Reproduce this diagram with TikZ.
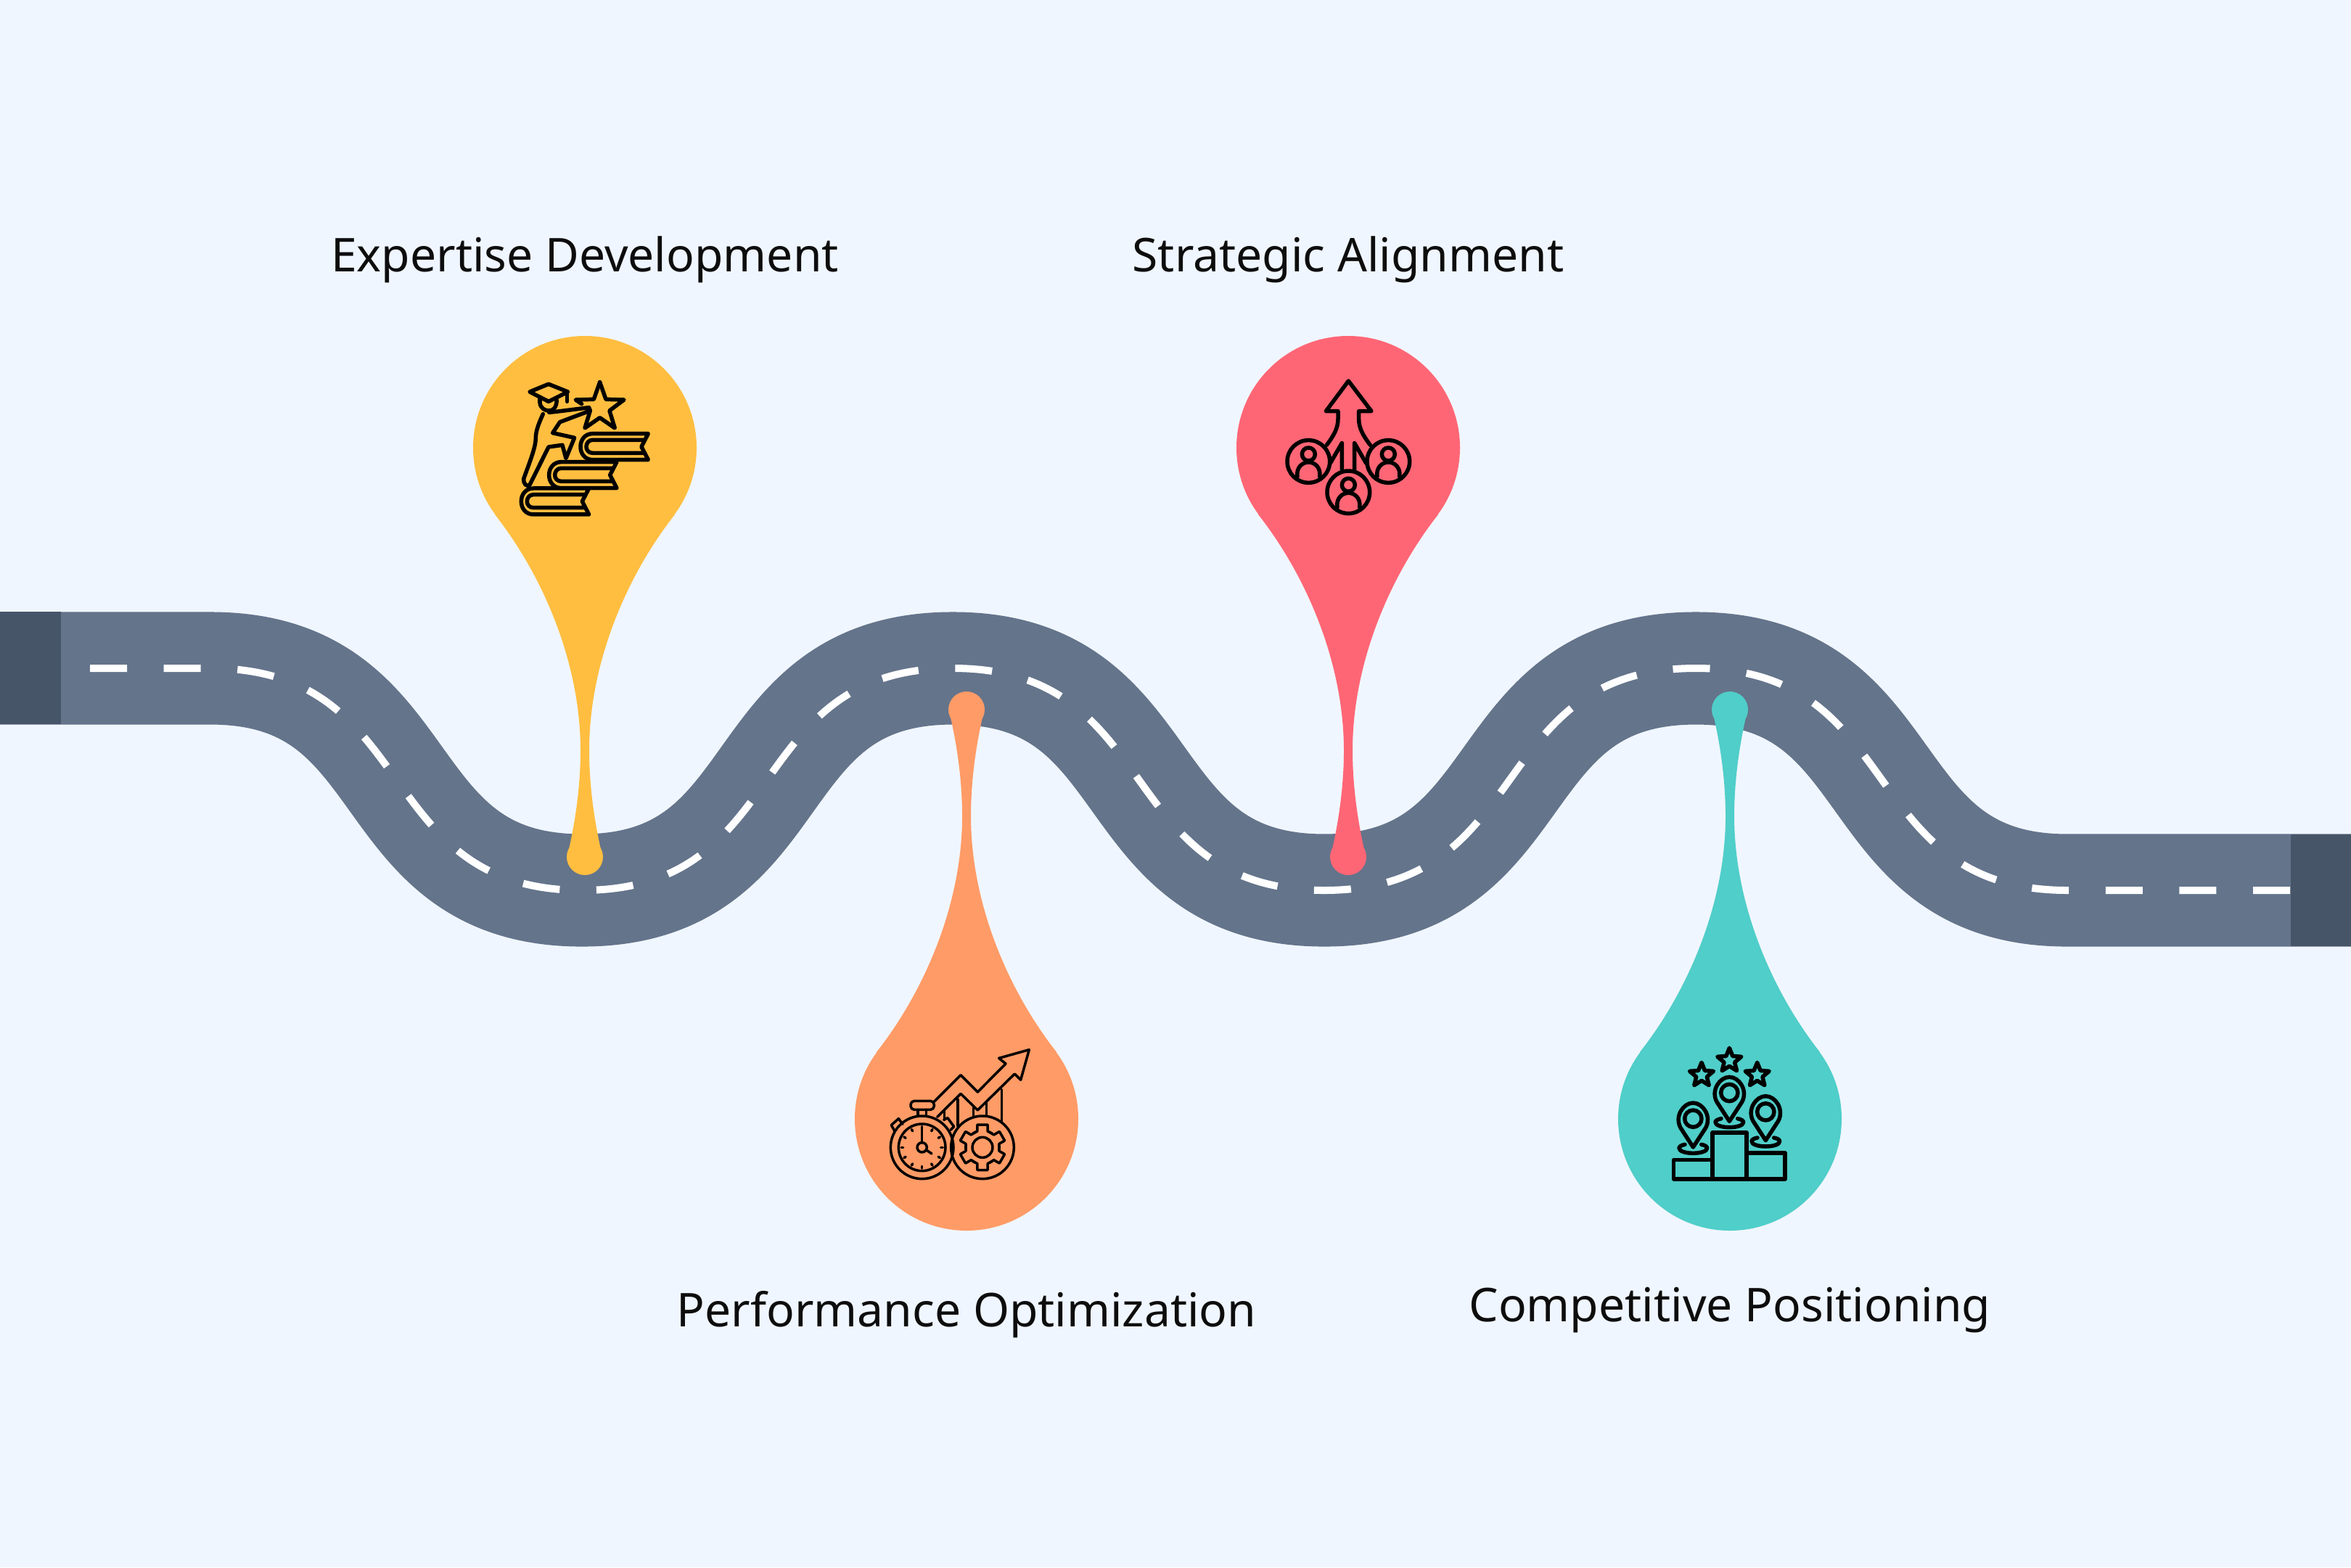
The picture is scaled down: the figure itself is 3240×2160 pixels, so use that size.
\documentclass[tikz,border=0pt]{standalone}
\usepackage{fontspec}
\setmainfont{Noto Sans}
\usepackage{xcolor}
\usetikzlibrary{calc}
\definecolor{pagebg}{HTML}{F0F6FF}
\definecolor{roadgray}{HTML}{64748B}
\definecolor{roaddark}{HTML}{475569}
\definecolor{pinyellow}{HTML}{FFBE40}
\definecolor{pinorange}{HTML}{FF9B66}
\definecolor{pinred}{HTML}{FF6675}
\definecolor{pinteal}{HTML}{50CEC9}
\tikzset{
  roadbody/.style={draw=roadgray,line width=1.55cm},
  roaddash/.style={draw=white,line width=0.1cm,dash pattern=on 0.51cm off 0.506cm},
  steplabel/.style={text=black!95,font=\fontsize{18.25}{22}\selectfont},
  iconline/.style={draw=black,line width=0.055cm,line join=round,line cap=round},
  thinline/.style={draw=black,line width=0.035cm,line join=round,line cap=round}
}
\newcommand{\roadcurve}{(290,921) .. controls (582,921) and (510,1227) .. (802,1227)
  .. controls (1094,1227) and (1021,921) .. (1313,921)
  .. controls (1605,921) and (1533,1227) .. (1825,1227)
  .. controls (2117,1227) and (2045,921) .. (2337,921)
  .. controls (2629,921) and (2557,1227) .. (2849,1227)}
\begin{document}
\begin{tikzpicture}[x=0.01cm,y=-0.01cm]
  \useasboundingbox (0,0) rectangle (3240,2160);
  \fill[pagebg] (0,0) rectangle (3240,2160);

  \draw[roadbody] (0,921) -- \roadcurve -- (3240,1227);
  \fill[roaddark] (0,843) rectangle (84,998);
  \fill[roaddark] (3157,1150) rectangle (3240,1304);
  \draw[roaddash] (124,921) -- \roadcurve -- (3157,1227);

  \foreach \pinx/\piny/\pinflip/\pincol in {806/617/1/pinyellow,1332/1542/-1/pinorange,1858/617/1/pinred,2384/1542/-1/pinteal}{
    \begin{scope}[shift={(\pinx,\piny)},yscale=\pinflip]
      \fill[fill=\pincol] (0,0) circle (154);
      \fill[fill=\pincol] (124,92) .. controls (55,180) and (6,300) .. (6,417)
        .. controls (6,470) and (14,520) .. (24,562) -- (-24,562)
        .. controls (-14,520) and (-6,470) .. (-6,417)
        .. controls (-6,300) and (-55,180) .. (-124,92) -- cycle;
      \fill[fill=\pincol] (0,564) circle (25);
    \end{scope}
  }

  \node[steplabel] (expertise) at (806,358) {Expertise Development};
  \node[steplabel] (strategic) at (1858,358) {Strategic Alignment};
  \node[steplabel] (performance) at (1332,1812) {Performance Optimization};
  \node[steplabel] (competitive) at (2384,1806) {Competitive Positioning};

  \begin{scope}[shift={(620,440)},scale=0.3333]
    \draw[iconline] (330,300) -- (408,268) -- (488,300) -- (408,340) -- cycle;
    \draw[iconline] (485,300) -- (485,340);
    \draw[iconline] (372,325) -- (372,345) .. controls (375,370) and (395,378) .. (410,378) .. controls (428,378) and (440,365) .. (442,335);
    \draw[iconline] (385,392) .. controls (370,425) and (355,460) .. (355,490) .. controls (355,530) and (330,590) .. (305,660) .. controls (303,680) and (318,695) .. (330,685) -- (408,528) -- (465,520) -- (480,575) -- (515,490) -- (425,470) -- (455,425) -- (580,378) -- (575,365) -- (440,382) -- (410,385);
    \draw[iconline] (620,260) -- (645,331) -- (720,333) -- (660,378) -- (682,450) -- (620,407) -- (558,450) -- (580,378);
    \draw[iconline] (545,350) -- (520,333) -- (595,331) -- (620,260);
    \foreach \bx/\by in {540/527,410/644,295/753}{
      \draw[iconline] ({\bx+280},{\by-54}) -- ({\bx+50},{\by-54}) .. controls ({\bx+20},{\by-54}) and (\bx,{\by-30}) .. (\bx,\by) .. controls (\bx,{\by+30}) and ({\bx+20},{\by+54}) .. ({\bx+50},{\by+54}) -- ({\bx+280},{\by+54}) -- ({\bx+252},\by) -- cycle;
      \draw[iconline] ({\bx+260},{\by-28}) -- ({\bx+50},{\by-28}) .. controls ({\bx+34},{\by-28}) and ({\bx+24},{\by-14}) .. ({\bx+24},\by) .. controls ({\bx+24},{\by+14}) and ({\bx+34},{\by+26}) .. ({\bx+50},{\by+26}) -- ({\bx+260},{\by+26});
    }
  \end{scope}

  \begin{scope}[shift={(1170,1380)},scale=0.3333]
    \draw[thinline] (302,604) circle (130);
    \draw[thinline] (302,604) circle (97);
    \draw[thinline] (302,604) circle (20);
    \draw[thinline] (302,520) -- (302,584);
    \draw[thinline] (320,615) -- (342,630);
    \foreach \tickang in {0,30,...,330}{
      \draw[thinline] ($(302,604)+(\tickang:78)$) -- ($(302,604)+(\tickang:86)$);
    }
    \draw[thinline,rounded corners=0.05cm] (255,412) rectangle (352,448);
    \draw[thinline] (285,448) -- (285,475);
    \draw[thinline] (320,448) -- (320,475);
    \draw[thinline] (188,535) -- (175,512) -- (205,485) -- (222,508);
    \draw[thinline] (392,490) -- (408,482) -- (434,518) -- (420,532);
    \draw[thinline] (552,604) circle (130);
    \draw[thinline] (552,604) circle (42);
    \foreach \toothang in {30,90,...,330}{
      \draw[thinline] ($(552,604)+(\toothang-36:70)$) -- ($(552,604)+(\toothang-18:70)$) -- ($(552,604)+(\toothang-13:96)$) -- ($(552,604)+(\toothang+13:96)$) -- ($(552,604)+(\toothang+18:70)$) -- ($(552,604)+(\toothang+36:70)$);
    }
    \draw[thinline] (352,415) -- (462,305) -- (532,375) -- (648,258) -- (620,235) -- (745,200) -- (710,325) -- (685,300) -- (532,450) -- (462,382) -- (365,478);
    \draw[thinline] (395,450) -- (395,490);
    \draw[thinline] (450,405) -- (450,515);
    \draw[thinline] (515,440) -- (515,475);
    \draw[thinline] (568,420) -- (568,475);
    \draw[thinline] (632,365) -- (632,495);
  \end{scope}

  \begin{scope}[shift={(1700,500)},scale=0.3333]
    \draw[iconline] (385,340) .. controls (415,300) and (432,270) .. (432,232) -- (432,200) -- (382,200) -- (475,75) -- (570,200) -- (518,200) -- (518,232) .. controls (518,270) and (535,300) .. (565,340);
    \draw[iconline] (400,415) -- (448,332) -- (448,440);
    \draw[iconline] (500,440) -- (500,332) -- (548,415);
    \foreach \headx/\heady in {310/408,640/408,475/535}{
      \draw[iconline] (\headx,\heady) circle (88);
      \draw[iconline] (\headx,{\heady-30}) circle (27);
      \draw[iconline] ({\headx-46},{\heady+62}) .. controls ({\headx-52},{\heady+25}) and ({\headx-25},{\heady+3}) .. (\headx,{\heady+3}) .. controls ({\headx+25},{\heady+3}) and ({\headx+52},{\heady+25}) .. ({\headx+46},{\heady+62});
    }
  \end{scope}

  \begin{scope}[shift={(2250,1400)},scale=0.3333]
    \draw[iconline] (330,483) rectangle (471,675);
    \draw[iconline] (330,595) -- (170,595) -- (170,675) -- (630,675) -- (630,567) -- (471,567);
    \foreach \markx/\marky in {250/425,400/318,550/397}{
      \draw[iconline] ({\markx-34},{\marky+107}) .. controls ({\markx-50},{\marky+110}) and ({\markx-58},{\marky+116}) .. ({\markx-58},{\marky+122}) .. controls ({\markx-58},{\marky+135}) and ({\markx-30},{\marky+143}) .. (\markx,{\marky+143}) .. controls ({\markx+30},{\marky+143}) and ({\markx+58},{\marky+135}) .. ({\markx+58},{\marky+122}) .. controls ({\markx+58},{\marky+116}) and ({\markx+50},{\marky+110}) .. ({\markx+34},{\marky+107});
      \draw[iconline] (\markx,{\marky+118}) -- ({\markx-52},{\marky+38}) .. controls ({\markx-78},{\marky-10}) and ({\markx-40},{\marky-65}) .. (\markx,{\marky-65}) .. controls ({\markx+40},{\marky-65}) and ({\markx+78},{\marky-10}) .. ({\markx+52},{\marky+38}) -- cycle;
      \draw[iconline] (\markx,\marky) circle (35);
    }
    \foreach \sx/\sy in {285/245,400/185,515/245}{
      \draw[iconline,shift={(\sx,\sy)}] (270:52) -- (306:23) -- (342:52) -- (18:23) -- (54:52) -- (90:23) -- (126:52) -- (162:23) -- (198:52) -- (234:23) -- cycle;
    }
  \end{scope}
\end{tikzpicture}
\end{document}
